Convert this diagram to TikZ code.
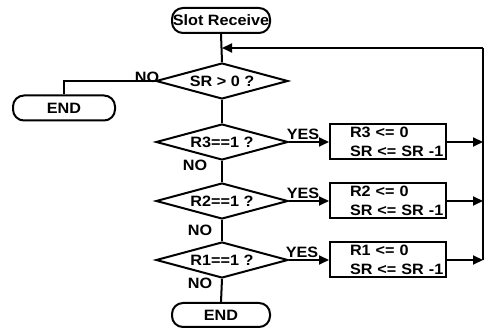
\documentclass[tikz,border=0pt]{standalone}
\usepackage{fontspec}
\setmainfont{Liberation Sans}[FakeStretch=1.08]
\usetikzlibrary{shapes.geometric,arrows.meta}
\newcommand{\pin}{\hspace*{20pt}}
\begin{document}
\begin{tikzpicture}[x=1pt,y=-1pt,
  every node/.style={font=\fontsize{15}{19}\selectfont\bfseries},
  ln/.style={line width=2pt},
  term/.style={draw,line width=2pt,rounded corners=11pt,minimum height=25pt,inner sep=0pt},
  dec/.style={draw,diamond,line width=2pt,minimum width=132pt,minimum height=36pt,inner sep=0pt,aspect=3.6},
  proc/.style={draw,line width=2pt,text width=116pt,minimum height=35pt,align=left,inner xsep=0pt,inner ysep=1pt},
  lbl/.style={inner sep=0pt},
  arr/.style={line width=2pt,-{Triangle[length=10pt,width=9pt]}}
]
\useasboundingbox (0,0) rectangle (491,328);
\node[term,minimum width=98pt] (sr) at (221,20.5) {Slot Receive};
\node[dec] (d0) at (222,81) {SR > 0 ?};
\node[term,minimum width=102pt] (endl) at (64,108) {END};
\node[dec] (d3) at (222,142) {R3==1 ?};
\node[dec] (d2) at (222,201) {R2==1 ?};
\node[dec] (d1) at (222,260) {R1==1 ?};
\node[proc] (b3) at (388,142) {\pin R3 <= 0\\ \pin SR <= SR -1};
\node[proc] (b2) at (388,201) {\pin R2 <= 0\\ \pin SR <= SR -1};
\node[proc] (b1) at (388,260) {\pin R1 <= 0\\ \pin SR <= SR -1};
\node[term,minimum width=98pt,minimum height=24pt] (endb) at (221,315) {END};
\coordinate (rtop) at (483,48);
\coordinate (rbot) at (483,260);
\coordinate (join) at (222,48);
% labels
\node[lbl] (no0) at (147,77) {NO};
\node[lbl] (no3) at (195,165) {NO};
\node[lbl] (no2) at (200,230) {NO};
\node[lbl] (no1) at (200,283) {NO};
\node[lbl] (yes3) at (303,134) {YES};
\node[lbl] (yes2) at (303,193) {YES};
\node[lbl] (yes1) at (302,252) {YES};
% connectors
\draw[ln] (sr.south) -- (d0.north);
\draw[ln] (d0.west) -| (endl.north);
\draw[ln] (d0.south) -- (d3.north);
\draw[ln] (d3.south) -- (d2.north);
\draw[ln] (d2.south) -- (d1.north);
\draw[ln] (d1.south) -- (endb.north);
\draw[arr] (d3.east) -- (b3.west);
\draw[arr] (d2.east) -- (b2.west);
\draw[arr] (d1.east) -- (b1.west);
\draw[arr] (b3.east) -- (b3.east -| rtop);
\draw[arr] (b2.east) -- (b2.east -| rtop);
\draw[arr] (b1.east) -- (rbot);
\draw[ln] (rbot) -- (rtop);
\draw[arr] (rtop) -- (join);
\end{tikzpicture}
\end{document}
